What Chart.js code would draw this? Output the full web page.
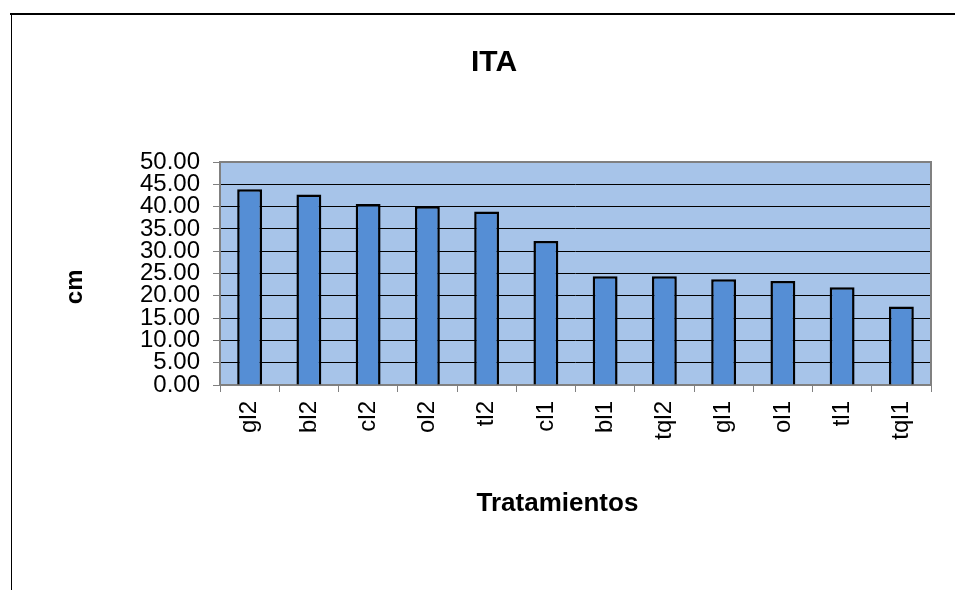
<!DOCTYPE html>
<html>
<head>
<meta charset="utf-8">
<title>ITA</title>
<script src="https://cdn.jsdelivr.net/npm/chart.js@4/dist/chart.umd.min.js"></script>
<style>
  html, body { margin: 0; padding: 0; background: #fff; }
  #wrap { width: 955px; height: 590px; position: relative; }
</style>
</head>
<body>
<div id="wrap"><canvas id="itaChart"></canvas></div>
<script>
// datos del grafico
const tratamientos = ["gl2", "bl2", "cl2", "ol2", "tl2", "cl1", "bl1", "tql2", "gl1", "ol1", "tl1", "tql1"];
const valoresCm = [43.9, 42.7, 40.6, 40.1, 38.9, 32.3, 24.4, 24.4, 23.7, 23.3, 21.9, 17.6];
const yTicks = [0, 5, 10, 15, 20, 25, 30, 35, 40, 45, 50];

const FONT = "Arial, 'Liberation Sans', sans-serif";

// fondo del area de trazado + marco gris + lineas del recuadro exterior
const plotFrame = {
  id: "plotFrame",
  beforeDraw(chart) {
    const { ctx, chartArea: a } = chart;
    ctx.save();
    ctx.fillStyle = "#A7C4E9";
    ctx.fillRect(a.left, a.top, a.right - a.left, a.bottom - a.top);
    // recuadro de la pagina
    ctx.strokeStyle = "#000";
    ctx.lineWidth = 2;
    ctx.beginPath();
    ctx.moveTo(10, 14);
    ctx.lineTo(955, 14);
    ctx.stroke();
    ctx.lineWidth = 1;
    ctx.beginPath();
    ctx.moveTo(11.5, 14);
    ctx.lineTo(11.5, 590);
    ctx.stroke();
    ctx.restore();
  },
  beforeDatasetsDraw(chart) {
    const { ctx, chartArea: a } = chart;
    ctx.save();
    ctx.strokeStyle = "#808080";
    ctx.lineWidth = 2;
    ctx.strokeRect(a.left, a.top, a.right - a.left, a.bottom - a.top);
    ctx.restore();
  }
};

const ctx = document.getElementById("itaChart").getContext("2d");

new Chart(ctx, {
  type: "bar",
  data: {
    labels: tratamientos,
    datasets: [{
      label: "ITA",
      data: valoresCm,
      backgroundColor: "#558ED5",
      borderColor: "#000",
      borderWidth: 2.5,
      barPercentage: 0.42,
      categoryPercentage: 1
    }]
  },
  options: {
    responsive: true,
    maintainAspectRatio: false,
    animation: false,
    layout: { padding: { left: 57, right: 24, top: 0, bottom: 67 } },
    plugins: {
      legend: { display: false },
      tooltip: { enabled: false },
      title: {
        display: true,
        text: "ITA",
        color: "#000",
        font: { family: FONT, size: 30, weight: "bold" },
        padding: { top: 45, bottom: 81 }
      }
    },
    scales: {
      x: {
        afterFit(scale) { scale.height = 138; },
        grid: {
          display: true,
          drawOnChartArea: false,
          tickLength: 7,
          tickColor: "#808080",
          lineWidth: 1
        },
        border: { display: false },
        ticks: {
          color: "#000",
          font: { family: FONT, size: 24 },
          minRotation: 90,
          maxRotation: 90,
          autoSkip: false,
          padding: 9
        },
        title: {
          display: true,
          text: "Tratamientos     ",
          color: "#000",
          font: { family: FONT, size: 26, weight: "bold" }
        }
      },
      y: {
        min: 0,
        max: 50,
        afterFit(scale) { scale.width = 163; },
        afterBuildTicks(scale) { scale.ticks = yTicks.map(v => ({ value: v })); },
        grid: {
          color: "#000",
          lineWidth: 1,
          tickLength: 7,
          tickColor: "#808080"
        },
        border: { display: false },
        ticks: {
          color: "#000",
          font: { family: FONT, size: 24 },
          autoSkip: false,
          padding: 13,
          callback: v => Number(v).toFixed(2)
        },
        title: {
          display: true,
          text: "cm    ",
          color: "#000",
          font: { family: FONT, size: 24, weight: "bold" }
        }
      }
    }
  },
  plugins: [plotFrame]
});
</script>
</body>
</html>
